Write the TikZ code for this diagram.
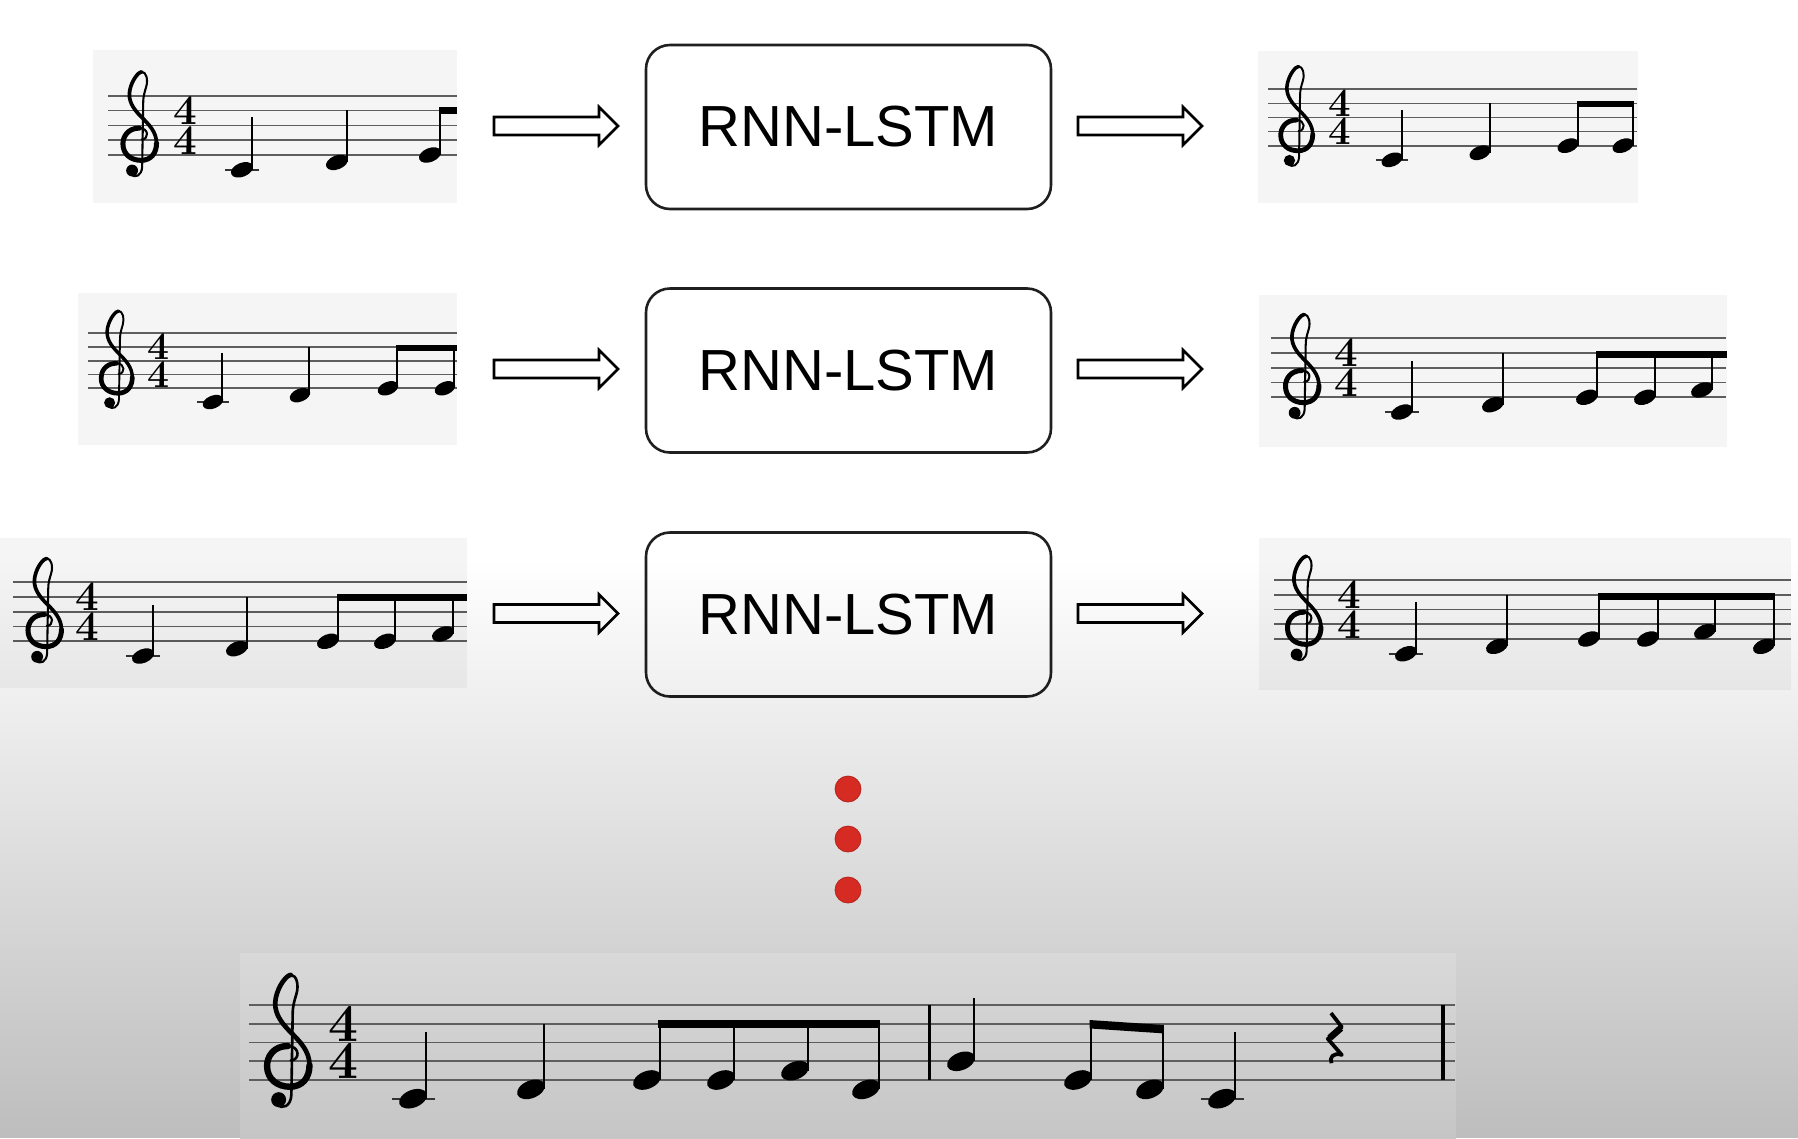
\documentclass[tikz,border=0pt]{standalone}
\usepackage{fontspec}
\newfontfamily\arialf{Liberation Sans}
\usetikzlibrary{calc,fadings}
\definecolor{dotred}{HTML}{D52B22}
\definecolor{panelbg}{HTML}{F5F5F5}
\definecolor{staffgray}{HTML}{5E5E5E}

\tikzset{
 staffline/.style={line width=1.7pt, draw=staffgray},
 panel/.style={fill=panelbg, draw=none, inner sep=0pt, outer sep=0pt, anchor=north west},
 lstm/.style={draw=black!88, line width=2.6pt, rounded corners=24pt, fill=white, minimum width=405pt, minimum height=164pt, inner sep=0pt, font=\arialf\fontsize{58}{58}\selectfont},
 harrowline/.style={draw=black, line width=2.6pt, fill=white, line join=miter},
 reddot/.style={circle, fill=dotred, draw=dotred!85!black, line width=0.8pt, minimum size=26pt, inner sep=0pt},
}

\newcommand{\mkstaff}[4]{%
 \def\stfyb{#3}\def\stfs{#4}%
 \pgfmathsetmacro\hrx{0.78*#4}%
 \pgfmathsetmacro\hry{0.47*#4}%
 \pgfmathsetmacro\soff{0.68*#4}%
 \pgfmathsetmacro\stw{0.13*#4}%
 \pgfmathsetmacro\bth{0.45*#4}%
 \pgfmathsetmacro\ledg{1.15*#4}%
 \foreach \i in {0,...,4}{\draw[staffline] (#1,{#3-\i*#4}) -- (#2,{#3-\i*#4});}%
}
\newcommand{\mkhead}[2]{%
 \pgfmathsetmacro\nhy{\stfyb-#2*\stfs/2}%
 \ifnum#2<-1 \draw[staffline, draw=black!80] ({#1-\ledg},\nhy) -- ({#1+\ledg},\nhy);\fi
 \fill[shift={(#1,\nhy)}, rotate=22] (0,0) ellipse [x radius=\hrx pt, y radius=\hry pt];%
}
\newcommand{\mkstem}[3]{%
 \pgfmathsetmacro\nhy{\stfyb-#2*\stfs/2}%
 \pgfmathsetmacro\stmx{#1+\soff}%
 \draw[line width=\stw pt] (\stmx,\nhy) -- (\stmx,#3);}
\newcommand{\mkq}[3]{\mkhead{#1}{#2}\mkstem{#1}{#2}{#3}}
\newcommand{\mkbeam}[4]{%
 \fill ({#1-\stw/2},#3) -- ({#2+\stw/2},#4) -- ({#2+\stw/2},{#4+\bth}) -- ({#1-\stw/2},{#3+\bth}) -- cycle;}
\newcommand{\mktsig}[2]{%
 \pgfmathsetmacro\tsz{2.85*\stfs}%
 \pgfmathsetmacro\tsbs{2*\stfs}%
 \node[inner sep=0pt, outer sep=0pt, align=center, font=\fontsize{\tsz}{\tsbs}\selectfont\bfseries] (#1) at (#2,{\stfyb-2*\stfs}) {4\\4};}
\newcommand{\mkclef}[1]{%
 \pgfmathsetmacro\cwa{0.34*\stfs}\pgfmathsetmacro\cwb{0.25*\stfs}\pgfmathsetmacro\cwc{0.14*\stfs}%
 \begin{scope}[shift={(#1,{\stfyb-\stfs})}, x=\stfs pt, y=\stfs pt, line cap=round, line join=round]
  \draw[line width=\cwc pt] (0.15,0.05) .. controls (0.65,0.05) and (0.65,0.82) .. (0.0,0.82);
  \draw[line width=\cwa pt] (0.0,0.82) .. controls (-0.78,0.82) and (-1.12,0.25) .. (-1.12,-0.25) .. controls (-1.12,-0.97) and (-0.55,-1.36) .. (0.1,-1.36) .. controls (0.8,-1.36) and (1.15,-0.85) .. (1.15,-0.2);
  \draw[line width=\cwb pt] (1.15,-0.2) .. controls (1.15,0.55) and (0.65,1.05) .. (0.1,1.6) .. controls (-0.45,2.15) and (-0.8,2.7) .. (-0.65,3.4) .. controls (-0.5,4.1) and (-0.05,4.62) .. (0.15,4.62);
  \draw[line width=\cwc pt] (0.15,4.62) .. controls (0.45,4.62) and (0.6,4.1) .. (0.45,3.6) .. controls (0.35,3.25) and (0.25,3.0) .. (0.25,2.5) -- (0.18,-1.8) .. controls (0.15,-2.4) and (-0.3,-2.6) .. (-0.6,-2.3);
  \fill (-0.5,-2.05) circle [radius=0.4];
 \end{scope}}
\newcommand{\mkrest}[1]{%
 \pgfmathsetmacro\cwa{0.2*\stfs}\pgfmathsetmacro\cwd{0.36*\stfs}%
 \begin{scope}[shift={(#1,\stfyb)}, x=\stfs pt, y=\stfs pt, line join=round]
  \draw[line width=\cwa pt] (0.32,3.58) -- (0.9,2.83) -- (0.15,2.2) -- (0.9,1.34) .. controls (0.45,1.5) and (0.2,1.2) .. (0.35,0.9);
  \draw[line width=\cwd pt] (0.85,2.78) -- (0.25,2.25);
 \end{scope}}
\newcommand{\harrow}[2]{%
 \draw[harrowline] let \p1=(#1), \p2=(#2) in
  (\x1,\y1+9pt) -- (\x2-19pt,\y1+9pt) -- (\x2-19pt,\y1+19pt) -- (\x2,\y1) -- (\x2-19pt,\y1-19pt) -- (\x2-19pt,\y1-9pt) -- (\x1,\y1-9pt) -- cycle;}

\begin{document}
\begin{tikzpicture}[x=1pt,y=-1pt]
\useasboundingbox (0,0) rectangle (1798,1138);
\fill[white] (0,0) rectangle (1798,1138);

% panels
\node[panel, minimum width=364pt, minimum height=153pt] (pA) at (93,50) {};
\node[panel, minimum width=380pt, minimum height=152pt] (pB) at (1258,51) {};
\node[panel, minimum width=379pt, minimum height=152pt] (pC) at (78,293) {};
\node[panel, minimum width=468pt, minimum height=152pt] (pD) at (1259,295) {};
\node[panel, minimum width=467pt, minimum height=150pt] (pE) at (0,538) {};
\node[panel, minimum width=532pt, minimum height=152pt] (pF) at (1259,538) {};

% staff A (row 1 input)
\mkstaff{108}{457}{155}{14.8}
\mkclef{139.5}\mktsig{tA}{185}
\mkq{242}{-2}{117}\mkq{337}{-1}{110}
\mkq{430}{0}{107}\mkbeam{440}{456}{107}{107}

% staff B (row 1 output)
\mkstaff{1268}{1637}{145.7}{14.1}
\mkclef{1296.5}\mktsig{tB}{1340}
\mkq{1392}{-2}{110}\mkq{1480}{-1}{103}
\mkq{1568}{0}{101}\mkq{1623}{0}{101}\mkbeam{1577.6}{1632.6}{101}{101}

% staff C (row 2 input)
\mkstaff{88}{457}{388.3}{13.75}
\mkclef{116.5}\mktsig{tC}{159}
\mkq{213}{-2}{353}\mkq{300}{-1}{347}
\mkq{388}{0}{345}\mkq{445}{0}{345}\mkbeam{397.4}{456}{345}{345}

% staff D (row 2 output)
\mkstaff{1271}{1726}{397.3}{14.75}
\mkclef{1302}\mktsig{tD}{1346}
\mkq{1402}{-2}{361}\mkq{1493}{-1}{353}
\mkq{1587}{0}{351}\mkq{1645}{0}{351}\mkq{1702}{1}{351}\mkbeam{1597}{1726}{351}{351}

% staff E (row 3 input)
\mkstaff{13}{467}{641.3}{14.75}
\mkclef{44.5}\mktsig{tE}{87.5}
\mkq{143}{-2}{605}\mkq{237}{-1}{597}
\mkq{328}{0}{594}\mkq{385}{0}{594}\mkq{443}{1}{594}\mkbeam{338}{466}{594}{594}

% staff F (row 3 output)
\mkstaff{1274}{1791}{639}{14.75}
\mkclef{1304}\mktsig{tF}{1349.5}
\mkq{1406}{-2}{602}\mkq{1497}{-1}{595}
\mkq{1589}{0}{593}\mkq{1648}{0}{593}\mkq{1705}{1}{593}\mkq{1764}{-1}{593}\mkbeam{1599}{1774}{593}{593}

% model boxes
\node[lstm] (b1) at (848.5,127) {RNN-LSTM};
\node[lstm] (b2) at (848.5,370.5) {RNN-LSTM};
\node[lstm] (b3) at (848.5,614.5) {RNN-LSTM};

% arrow end points
\foreach \k/\yy in {1/126,2/369,3/613.5}{
  \coordinate (l\k s) at (494,\yy);
  \coordinate (l\k e) at (618,\yy);
  \coordinate (r\k s) at (1078,\yy);
  \coordinate (r\k e) at (1202,\yy);
}
\harrow{l1s}{l1e}\harrow{r1s}{r1e}
\harrow{l2s}{l2e}\harrow{r2s}{r2e}
\harrow{l3s}{l3e}\harrow{r3s}{r3e}

% bottom darkening gradient
\fill[black, opacity=0.26, path fading=north] (0,560) rectangle (1798,1138);

% dots
\node[reddot] (d1) at (848,789) {};
\node[reddot] (d2) at (848,839) {};
\node[reddot] (d3) at (848,890) {};

% bottom panel and staff G (final melody)
\node[panel, minimum width=1216pt, minimum height=185pt, top color=black!15, bottom color=black!22.5] (pG) at (240,953) {};
\mkstaff{249}{1455}{1080}{18.7}
\mkclef{288}\mktsig{tG}{343}
\mkq{413}{-2}{1032}\mkq{531}{-1}{1024}
\mkq{647}{0}{1020}\mkq{721}{0}{1020}\mkq{795}{1}{1020}\mkq{866}{-1}{1020}\mkbeam{659.7}{878.7}{1020}{1020}
\draw[line width=3pt] (929,1005.2) -- (929,1080);
\mkq{961}{2}{998}
\mkq{1078}{0}{1020}\mkq{1150}{-1}{1025}\mkbeam{1090.7}{1162.7}{1020}{1025}
\mkq{1222}{-2}{1032}
\mkrest{1325}
\draw[line width=4pt] (1443,1005.2) -- (1443,1080);
\end{tikzpicture}
\end{document}
